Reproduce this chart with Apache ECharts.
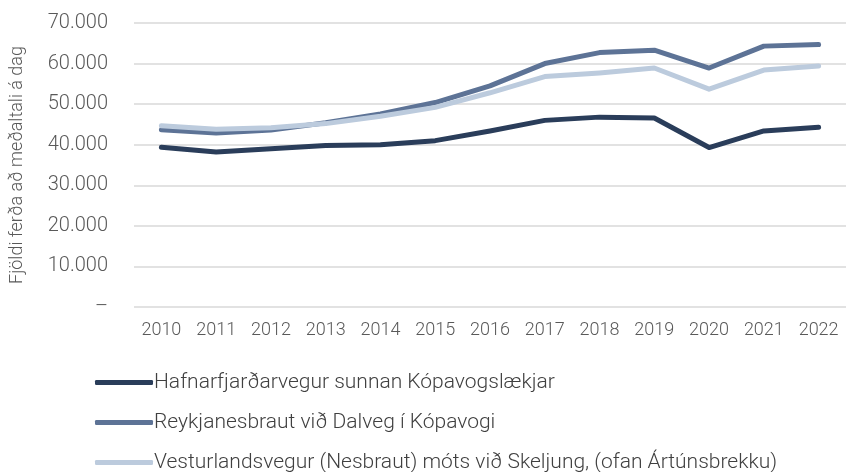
<!DOCTYPE html>
<html>
<head>
<meta charset="UTF-8">
<title>Umferð</title>
<script type="text/javascript" src="https://cdn.jsdelivr.net/npm/echarts@6/dist/echarts.min.js"></script>
<style>
html,body{margin:0;padding:0;background:#fff;}
</style>
</head>
<body>
<div id="main" style="width:846px;height:472px;"></div>

<script type="text/javascript">
// ár
var years=['2010','2011','2012','2013','2014','2015','2016','2017','2018','2019','2020','2021','2022'];
// nöfn raða
var names=['Hafnarfjarðarvegur sunnan Kópavogslækjar','Reykjanesbraut við Dalveg í Kópavogi','Vesturlandsvegur (Nesbraut) móts við Skeljung, (ofan Ártúnsbrekku)'];
// meðalumferð á dag
var hafnarfjardarvegur=[39400,38200,39000,39800,40000,41000,43400,46000,46800,46600,39300,43400,44300];
var reykjanesbraut=[43700,42900,43600,45400,47600,50400,54500,60000,62700,63300,58900,64300,64700];
var vesturlandsvegur=[44700,43800,44200,45200,47000,49200,52800,56800,57700,58900,53700,58400,59400];
var colors=['#2a3d5a','#5d7396','#bccbdd'];

var mychart=echarts.init(document.getElementById('main'));

function fmt(v){
    if(v===0) return '–';
    return String(v).replace(/\B(?=(\d{3})+(?!\d))/g,'.');
}

var font='Roboto';
var series=[hafnarfjardarvegur,reykjanesbraut,vesturlandsvegur].map(function(d,i){
    return {
        name:names[i],
        type:'line',
        data:d,
        symbol:'none',
        lineStyle:{width:5,color:colors[i],cap:'round',join:'round'},
        itemStyle:{color:colors[i]}
    };
});

var option={
    animation:false,
    color:colors,
    textStyle:{fontFamily:font},
    grid:{left:130,right:-7,top:23,bottom:165,containLabel:false},
    legend:{
        orient:'vertical',
        left:90,
        top:367,
        height:120,
        itemGap:19,
        itemWidth:58,
        itemHeight:5,
        icon:'roundRect',
        data:names,
        textStyle:{fontFamily:font,fontSize:21,fontWeight:300,color:'#404040',padding:[0,0,0,-4]}
    },
    xAxis:{
        type:'category',
        data:years,
        boundaryGap:true,
        axisLine:{show:false},
        axisTick:{show:false},
        axisLabel:{color:'#595959',fontSize:18,fontWeight:300,interval:0,margin:14,fontFamily:font}
    },
    yAxis:{
        type:'value',
        min:0,
        max:70000,
        interval:10000,
        name:'Fjöldi ferða að meðaltali á dag',
        nameLocation:'middle',
        nameGap:108,
        nameRotate:90,
        nameTextStyle:{color:'#595959',fontSize:18,fontWeight:300,fontFamily:font},
        axisLine:{show:false},
        axisTick:{show:false},
        splitLine:{lineStyle:{color:'#d9d9d9',width:1.5}},
        axisLabel:{color:'#595959',fontSize:20,fontWeight:300,margin:26,fontFamily:font,formatter:fmt}
    },
    series:series
};

mychart.setOption(option);
</script>
</body>
</html>
